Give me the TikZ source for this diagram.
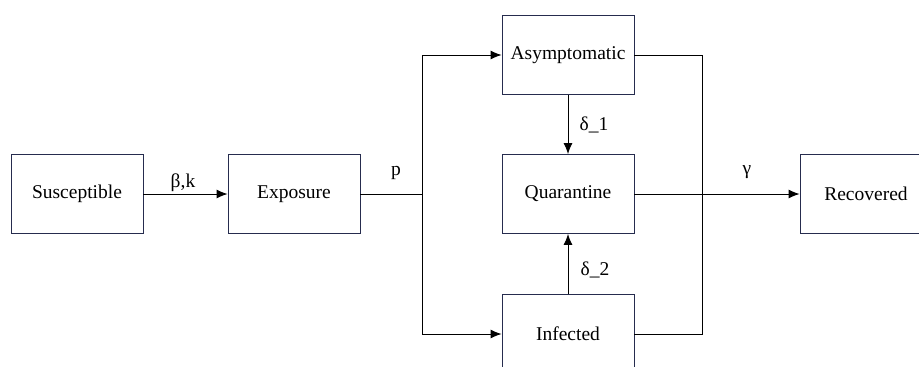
\documentclass[tikz,border=0pt]{standalone}
\usepackage{fontspec}
\setmainfont{Liberation Serif}
\usetikzlibrary{arrows.meta}
\definecolor{boxline}{HTML}{262C4E}
\begin{document}
\begin{tikzpicture}[x=1pt,y=-1pt,
  stage/.style={draw=boxline, line width=0.9pt, fill=white, minimum width=132pt, minimum height=79pt, inner sep=0pt, font=\fontsize{19.5}{22}\selectfont},
  flow/.style={line width=0.9pt, -{Latex[length=11pt,width=9pt]}},
  wire/.style={line width=0.9pt},
  lbl/.style={font=\fontsize{19.5}{22}\selectfont}]
\useasboundingbox (0,0) rectangle (919,367);
\clip (0,0) rectangle (919,367);
\node[stage] (S) at (77,194) {Susceptible};
\node[stage] (E) at (294,194) {Exposure};
\node[stage] (A) at (568,55) {Asymptomatic};
\node[stage] (Q) at (568,194) {Quarantine};
\node[stage] (I) at (568,334) {Infected};
\node[stage] (R) at (866,194) {Recovered};
\coordinate (split) at (422,194);
\coordinate (join) at (702,194);
\draw[flow] (S) -- (E);
\draw[wire] (E) -- (split);
\draw[flow] (split) |- (A.west);
\draw[flow] (split) |- (I.west);
\draw[flow] (A) -- (Q);
\draw[flow] (I) -- (Q);
\draw[wire] (A.east) -| (join);
\draw[wire] (I.east) -| (join);
\draw[flow] (Q) -- (R);
\node[lbl] (l1) at (183,183) {β,k};
\node[lbl] (l2) at (396,173) {p};
\node[lbl] (l3) at (594,125) {δ\_1};
\node[lbl] (l4) at (595,270) {δ\_2};
\node[lbl] (l5) at (747,172) {γ};
\end{tikzpicture}
\end{document}
